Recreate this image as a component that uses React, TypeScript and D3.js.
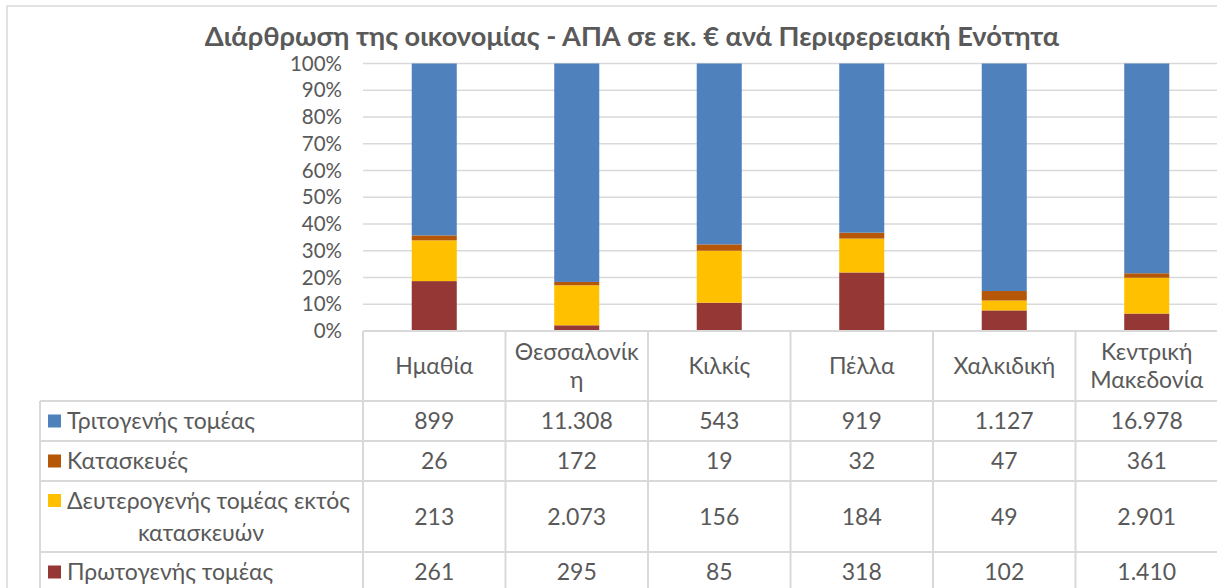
import React from "react";
import * as d3 from "d3";

const title = "Διάρθρωση της οικονομίας - ΑΠΑ σε εκ. € ανά Περιφερειακή Ενότητα";
const categories = ["Ημαθία", "Θεσσαλονίκη", "Κιλκίς", "Πέλλα", "Χαλκιδική", "Κεντρική Μακεδονία"];
const categoryLines = [["Ημαθία"], ["Θεσσαλονίκ", "η"], ["Κιλκίς"], ["Πέλλα"], ["Χαλκιδική"], ["Κεντρική", "Μακεδονία"]];
const primary = [261, 295, 85, 318, 102, 1410];
const secondaryExclConstr = [213, 2073, 156, 184, 49, 2901];
const construction = [26, 172, 19, 32, 47, 361];
const tertiary = [899, 11308, 543, 919, 1127, 16978];
const seriesNames = ["Πρωτογενής τομέας", "Δευτερογενής τομέας εκτός κατασκευών", "Κατασκευές", "Τριτογενής τομέας"];
const seriesColors = ["#953735", "#ffc000", "#b65708", "#4f81bd"];
const yTicks = [0, 0.1, 0.2, 0.3, 0.4, 0.5, 0.6, 0.7, 0.8, 0.9, 1];

const fmt = (v: number) => d3.format(",")(v).replace(/,/g, ".");

export default function App() {
  const W = 1217, H = 588;
  const plotL = 363, plotR = 1218, plotT = 63.5, plotB = 331;
  const x = d3.scaleBand<string>().domain(categories).range([plotL, plotR]).paddingInner(0.684).paddingOuter(0.342);
  const xc = d3.scaleBand<string>().domain(categories).range([plotL, plotR]);
  const y = d3.scaleLinear().domain([0, 1]).range([plotB, plotT]);
  const seriesData = [primary, secondaryExclConstr, construction, tertiary];
  const rows = categories.map((c, i) => {
    const o: any = { cat: c };
    seriesData.forEach((s, k) => (o["s" + k] = s[i]));
    return o;
  });
  const stack = d3.stack<any>().keys(["s0", "s1", "s2", "s3"]).offset(d3.stackOffsetExpand);
  const stacked = stack(rows);

  const font = "Lato, 'Open Sans', sans-serif";
  const textColor = "#595959";
  const gridColor = "#d9d9d9";
  const fs = 23;

  const tableOrder = [3, 2, 1, 0];
  const rowBounds = [401, 441, 481, 552, 592];
  const legendLeft = 40;
  const legendLabelLines: Record<number, string[]> = {
    3: ["Τριτογενής τομέας"],
    2: ["Κατασκευές"],
    1: ["Δευτερογενής τομέας εκτός", "κατασκευών"],
    0: ["Πρωτογενής τομέας"],
  };

  return (
    <div style={{ position: "fixed", left: 0, top: 0 }}>
      <svg width={W} height={H} style={{ display: "block", background: "#fff" }} fontFamily={font}>
        <rect x={7} y={6} width={W + 20} height={H + 20} fill="#fff" stroke={gridColor} strokeWidth={1.5} />
        <text x={632} y={46} textAnchor="middle" fontSize={27.2} fontWeight="bold" fill={textColor}>
          {title}
        </text>
        {yTicks.map((t) => (
          <g key={t}>
            <line x1={plotL} x2={plotR} y1={y(t)} y2={y(t)} stroke={gridColor} strokeWidth={1.5} />
            <text x={342} y={y(t)} dy="0.35em" textAnchor="end" fontSize={20.5} fill={textColor}>
              {d3.format(".0%")(t)}
            </text>
          </g>
        ))}
        {stacked.map((layer, k) => (
          <g key={k} fill={seriesColors[k]}>
            {layer.map((d: any, i: number) => (
              <rect key={i} x={x(categories[i])} width={x.bandwidth()} y={y(d[1])} height={y(d[0]) - y(d[1])} />
            ))}
          </g>
        ))}
        <g stroke={gridColor} strokeWidth={2} fill="none">
          <line x1={plotL} x2={plotR} y1={plotB} y2={plotB} />
          {rowBounds.map((rb, i) => (
            <line key={i} x1={legendLeft} x2={plotR} y1={rb} y2={rb} />
          ))}
          <line x1={legendLeft} x2={legendLeft} y1={401} y2={H + 10} />
          {categories.map((c) => (
            <line key={c} x1={xc(c)} x2={xc(c)} y1={plotB} y2={H + 10} />
          ))}
          <line x1={plotR} x2={plotR} y1={plotB} y2={H + 10} />
        </g>
        {categories.map((c, i) => {
          const lines = categoryLines[i];
          const cx = (xc(c) as number) + xc.bandwidth() / 2;
          const cy = (plotB + 401) / 2;
          return (
            <text key={c} x={cx} textAnchor="middle" fontSize={fs} fill={textColor}>
              {lines.map((l, j) => (
                <tspan key={j} x={cx} y={cy + (j - (lines.length - 1) / 2) * 27.5} dy="0.35em">
                  {l}
                </tspan>
              ))}
            </text>
          );
        })}
        {tableOrder.map((s, r) => {
          const top = rowBounds[r], bot = rowBounds[r + 1];
          const cy = r === 3 ? 572 : (top + bot) / 2;
          const lines = legendLabelLines[s];
          return (
            <g key={s}>
              <rect x={48} y={lines.length > 1 ? 494 : cy - 6.5} width={13} height={13} fill={seriesColors[s]} />
              <text fontSize={fs} fill={textColor}>
                {lines.map((l, j) =>
                  lines.length > 1 ? (
                    <tspan key={j} x={j === 0 ? 67 : 201} y={j === 0 ? 501 : 533} dy="0.35em" textAnchor={j === 0 ? "start" : "middle"}>
                      {l}
                    </tspan>
                  ) : (
                    <tspan key={j} x={67} y={cy} dy="0.35em">
                      {l}
                    </tspan>
                  )
                )}
              </text>
              {categories.map((c, i) => (
                <text key={c} x={(xc(c) as number) + xc.bandwidth() / 2} y={cy} dy="0.35em" textAnchor="middle" fontSize={fs} fill={textColor}>
                  {fmt(seriesData[s][i])}
                </text>
              ))}
            </g>
          );
        })}
      </svg>
    </div>
  );
}
